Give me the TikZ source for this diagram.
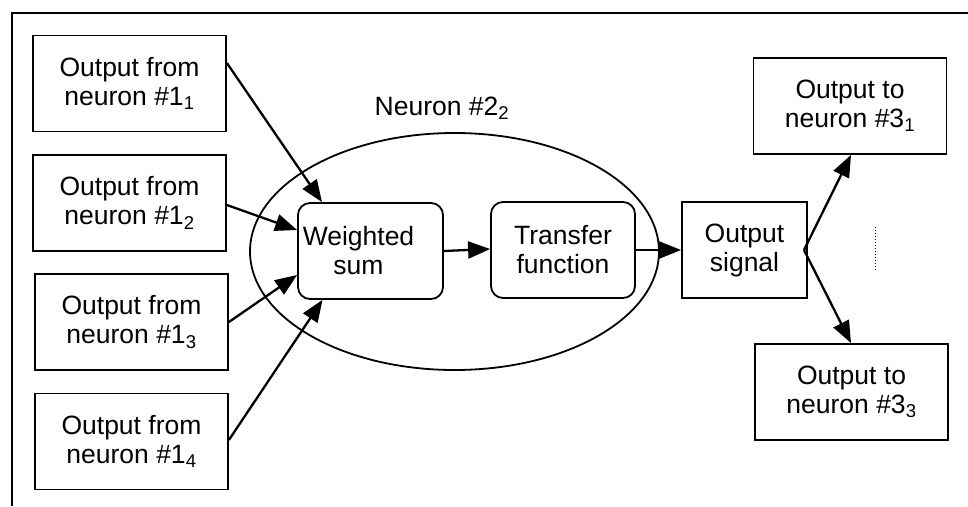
\documentclass[tikz,border=0pt]{standalone}
\usepackage{fontspec}
\setmainfont{Liberation Sans}
\usetikzlibrary{arrows.meta}
\begin{document}
\begin{tikzpicture}[x=1pt,y=-1pt,
  txt/.style={font=\fontsize{26.5}{29}\selectfont, align=center},
  inbox/.style={txt, draw, line width=1.8pt, minimum width=193pt, minimum height=96pt, inner sep=0pt},
  rbox/.style={txt, draw, line width=1.8pt, rounded corners=12pt, minimum width=145pt, minimum height=96pt, inner sep=0pt},
  conn/.style={line width=2.3pt, -{Triangle[length=22pt,width=17pt]}}
]
\useasboundingbox (0,0) rectangle (968,506);
\draw[line width=1.8pt] (968,13) -- (12,13) -- (12,506);

% inputs
\node[inbox] (in1) at (129.5,83.5) {Output from\\neuron \#1\textsubscript{1}};
\node[inbox] (in2) at (129.5,203) {Output from\\neuron \#1\textsubscript{2}};
\node[inbox] (in3) at (131.5,322) {Output from\\neuron \#1\textsubscript{3}};
\node[inbox] (in4) at (131.5,441.5) {Output from\\neuron \#1\textsubscript{4}};

% neuron ellipse
\draw[line width=1.8pt] (454.5,251.5) ellipse [x radius=204.5, y radius=118.5];
\node[txt, inner sep=0pt] (nlab) at (442,108) {Neuron \#2\textsubscript{2}};

\node[rbox] (ws) at (370.5,251) {\hspace*{-24pt}Weighted\\\hspace*{-24pt}sum};
\node[rbox, minimum width=144pt] (tf) at (563,250) {Transfer\\function};
\node[inbox, minimum width=125pt, minimum height=96pt] (os) at (744.5,250) {Output\\signal};

\node[inbox, minimum height=96pt] (out1) at (850,106) {Output to\\neuron \#3\textsubscript{1}};
\node[inbox, minimum height=96pt] (out3) at (851.5,392) {Output to\\neuron \#3\textsubscript{3}};

\coordinate (split) at (804,250);
\coordinate (dtop) at (875,227);
\coordinate (dbot) at (875,272);
\draw[line width=1pt, dotted] (dtop) -- (dbot);

% connectors
\draw[conn] ([yshift=20.5pt]in1.east) -- ([xshift=-48.5pt]ws.north);
\draw[conn] ([yshift=-2pt]in2.east) -- ([yshift=21pt]ws.west);
\draw[conn] (in3.east) -- ([yshift=-24pt]ws.west);
\draw[conn] ([yshift=1.5pt]in4.east) -- ([xshift=-48pt]ws.south);
\draw[conn] (ws.east) -- ([yshift=1pt]tf.west);
\draw[conn] (tf.east) -- (os.west);
\draw[conn] (split) -- ([xshift=1pt]out1.south);
\draw[conn] (split) -- ([xshift=-0.5pt]out3.north);
\end{tikzpicture}
\end{document}
